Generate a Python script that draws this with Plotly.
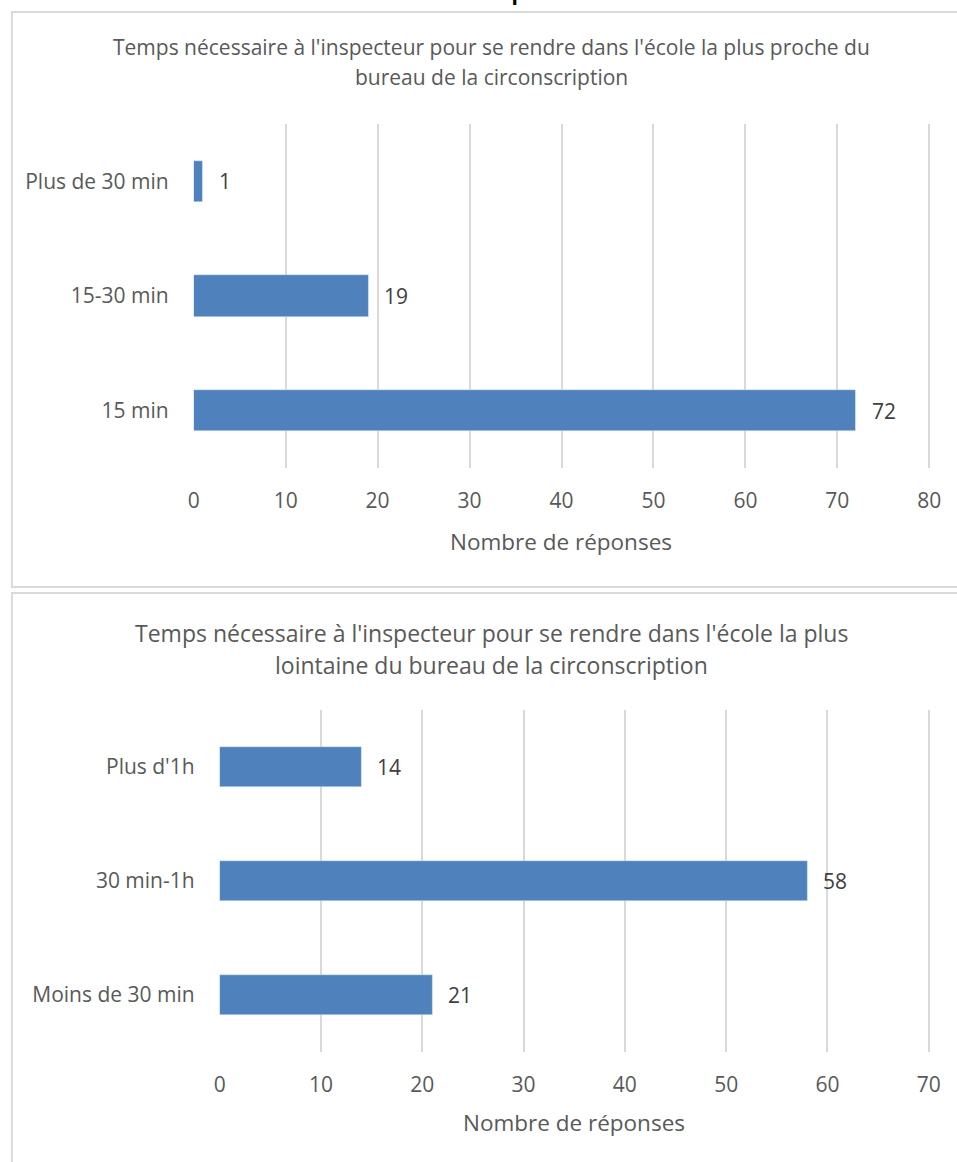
import plotly.graph_objects as go

W, H = 957, 1162

# ---- data ----
cats1 = ["15 min", "15-30 min", "Plus de 30 min"]
vals1 = [72, 19, 1]
title1 = ["Temps nécessaire à l'inspecteur pour se rendre dans l'école la plus proche du",
          "bureau de la circonscription"]

cats2 = ["Moins de 30 min", "30 min-1h", "Plus d'1h"]
vals2 = [21, 58, 14]
title2 = ["Temps nécessaire à l'inspecteur pour se rendre dans l'école la plus",
          "lointaine du bureau de la circonscription"]

xticks1 = [0, 10, 20, 30, 40, 50, 60, 70, 80]
xticks2 = [0, 10, 20, 30, 40, 50, 60, 70]
axis_title = "Nombre de réponses"
heading = "circonscription"

BAR = "#4F81BD"
TXT = "#595959"
LBL = "#404040"
GRID = "#D9D9D9"
FONT = "Open Sans"


def px(x):
    return x / W


def py(y):
    return 1 - y / H


fig = go.Figure()
fig.add_trace(go.Bar(x=vals1, y=cats1, orientation="h", marker_color=BAR,
                     width=0.36, xaxis="x", yaxis="y", hoverinfo="skip"))
fig.add_trace(go.Bar(x=vals2, y=cats2, orientation="h", marker_color=BAR,
                     width=0.35, xaxis="x2", yaxis="y2", hoverinfo="skip"))

common_x = dict(showgrid=True, gridcolor=GRID, gridwidth=1.5, zeroline=False,
                showline=False, ticks="", ticklabelstandoff=18,
                tickfont=dict(family=FONT, size=21, color=TXT), fixedrange=True)
common_y = dict(showgrid=False, zeroline=False, showline=False, ticks="",
                ticklabelstandoff=24, tickfont=dict(family=FONT, size=21, color=TXT),
                type="category", range=[-0.5, 2.5], fixedrange=True)

x1_left, x1_right = 191.1, 941.4
x2_left, x2_right = 217.5, 941.0

fig.update_layout(
    width=W, height=H,
    margin=dict(l=0, r=0, t=0, b=0),
    paper_bgcolor="white", plot_bgcolor="white",
    showlegend=False,
    bargap=0,
    xaxis=dict(domain=[px(x1_left), px(x1_right)], range=[0, 80.15], tickvals=xticks1,
               anchor="y", **common_x),
    yaxis=dict(domain=[py(468), py(124)], anchor="x", **common_y),
    xaxis2=dict(domain=[px(x2_left), px(x2_right)], range=[0, 70.15], tickvals=xticks2,
                anchor="y2", **common_x),
    yaxis2=dict(domain=[py(1052), py(710)], anchor="x2", **common_y),
)

# boxes
shapes = [
    dict(type="rect", xref="paper", yref="paper", x0=px(6), x1=px(990),
         y0=py(587), y1=py(12), line=dict(color=GRID, width=2), layer="below"),
    dict(type="rect", xref="paper", yref="paper", x0=px(6), x1=px(990),
         y0=py(1180), y1=py(593), line=dict(color=GRID, width=2), layer="below"),
]
fig.update_layout(shapes=shapes)


def text(t, x, y, size, color=TXT, bold=False):
    return dict(text=("<b>%s</b>" % t) if bold else t, xref="paper", yref="paper",
                x=px(x), y=py(y), xanchor="center", yanchor="middle", showarrow=False,
                font=dict(family=FONT, size=size, color=color))


ann = []
# cropped heading at very top
ann.append(text(heading, 491, -8, 21, color="#000000", bold=True))
# titles
ann.append(text(title1[0], 494, 47, 21))
ann.append(text(title1[1], 494, 77, 21))
ann.append(text(title2[0], 494, 633, 23))
ann.append(text(title2[1], 494, 665, 23))
# axis titles
ann.append(text(axis_title, 565, 541, 22.5))
ann.append(text(axis_title, 578, 1122, 22.5))
# data labels
for c, v in zip(cats1, vals1):
    ann.append(dict(text=str(v), x=v, y=c, xref="x", yref="y", xanchor="left",
                    yanchor="middle", xshift=14, showarrow=False,
                    font=dict(family=FONT, size=21, color=LBL)))
for c, v in zip(cats2, vals2):
    ann.append(dict(text=str(v), x=v, y=c, xref="x2", yref="y2", xanchor="left",
                    yanchor="middle", xshift=14, showarrow=False,
                    font=dict(family=FONT, size=21, color=LBL)))
fig.update_layout(annotations=ann)

fig.write_html("out.html")
